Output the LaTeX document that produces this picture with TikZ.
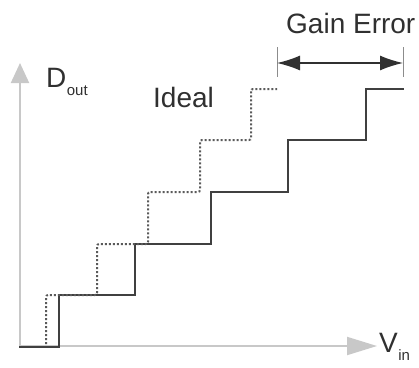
\documentclass[tikz,border=0pt]{standalone}
\usepackage{fontspec}
\setmainfont{Liberation Sans}
\usetikzlibrary{arrows.meta}
\definecolor{axisgray}{HTML}{C8C8C8}
\definecolor{txt}{HTML}{303030}
\definecolor{stair}{HTML}{404040}
\definecolor{ideal}{HTML}{5A5A5A}
\definecolor{tick}{HTML}{8C8C8C}
\tikzset{
  axisline/.style={draw=axisgray, line width=2pt},
  realstair/.style={draw=stair, line width=2pt},
  idealstair/.style={draw=ideal, line width=2pt, dash pattern=on 2pt off 2pt},
  bigtext/.style={inner sep=0pt, anchor=base west, text=txt, font=\fontsize{28}{30}\selectfont},
  subtext/.style={inner sep=0pt, anchor=base west, text=txt, font=\fontsize{15}{17}\selectfont},
  ticklineA/.style={draw=tick, line width=1pt},
  dimline/.style={draw=txt, line width=1.3pt, {Latex[length=23pt,width=15pt]}-{Latex[length=23pt,width=15pt]}}
}
\begin{document}
\begin{tikzpicture}[x=1pt,y=-1pt]
\useasboundingbox (0,0) rectangle (419,367);
% axes
\coordinate (O) at (20,346);
\coordinate (Ytop) at (20,63);
\coordinate (Xend) at (377,346);
\draw[axisline, -{Triangle[length=20pt,width=18pt]}, axisgray] (O) -- (Ytop);
\draw[axisline, -{Triangle[length=30pt,width=18pt]}, axisgray] (O) -- (Xend);
% labels
\node[bigtext] (D) at (46,87) {D};
\node[subtext] (Dsub) at (D.base east) [yshift=-8pt] {out};
\node[bigtext] (V) at (379,352) {V};
\node[subtext] (Vsub) at (V.base east) [yshift=-8pt] {in};
\node[bigtext] (ideallbl) at (153,107) {Ideal};
\node[bigtext] (gain) at (286,33) {Gain Error};
% real staircase
\draw[realstair, line join=miter] (19,347) -- (59,347) -- (59,295) -- (135,295) -- (135,244)
  -- (211,244) -- (211,192) -- (288,192) -- (288,140) -- (366,140) -- (366,89) -- (404,89);
% ideal staircase
\draw[idealstair] (46,344) -- (46,297) [rounded corners=2pt] -- (46,295) -- (97,295) -- (97,244)
  -- (148,244) -- (148,192) -- (200,192) -- (200,140) -- (251,140) -- (251,89) -- (277,89);
% gain error dimension
\coordinate (Lt) at (277,47);
\coordinate (Lb) at (277,77);
\coordinate (Rt) at (403,47);
\coordinate (Rb) at (403,77);
\coordinate (La) at (277,63);
\coordinate (Ra) at (403,63);
\draw[ticklineA] (Lt) -- (Lb);
\draw[ticklineA] (Rt) -- (Rb);
\draw[dimline] (La) -- (Ra);
\end{tikzpicture}
\end{document}
